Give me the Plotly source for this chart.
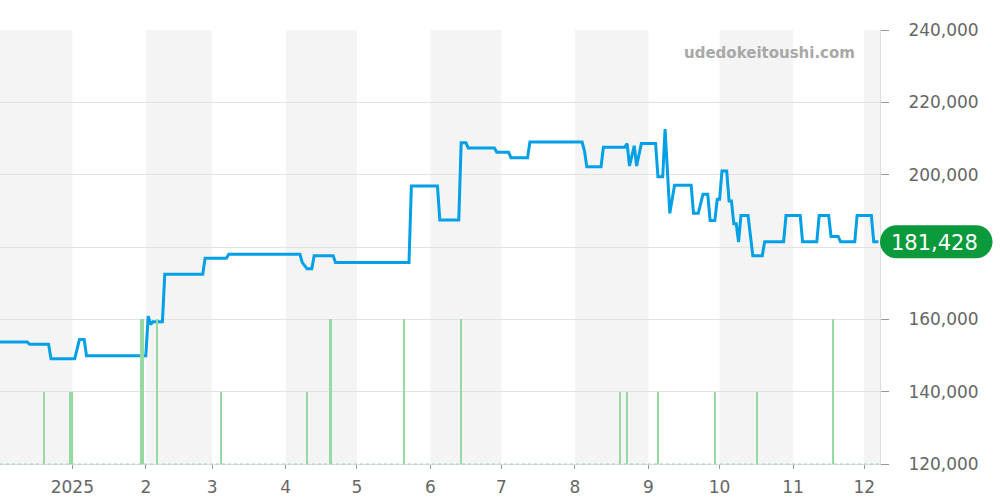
import plotly.graph_objects as go

# ---- data ----
price_dates = [
    "2024-12-01", "2024-12-13", "2024-12-14", "2024-12-22", "2024-12-23",
    "2025-01-02", "2025-01-04", "2025-01-06", "2025-01-07", "2025-02-01",
    "2025-02-02", "2025-02-03", "2025-02-04", "2025-02-08", "2025-02-09",
    "2025-02-25", "2025-02-26", "2025-03-07", "2025-03-08", "2025-04-07",
    "2025-04-08", "2025-04-10", "2025-04-12", "2025-04-13", "2025-04-21",
    "2025-04-22", "2025-05-23", "2025-05-24", "2025-06-04", "2025-06-05",
    "2025-06-13", "2025-06-14", "2025-06-16", "2025-06-17", "2025-06-28",
    "2025-06-29", "2025-07-04", "2025-07-05", "2025-07-12", "2025-07-13",
    "2025-08-04", "2025-08-05", "2025-08-06", "2025-08-12", "2025-08-13",
    "2025-08-22", "2025-08-23", "2025-08-24", "2025-08-26", "2025-08-27",
    "2025-08-29", "2025-09-04", "2025-09-05", "2025-09-07", "2025-09-08",
    "2025-09-10", "2025-09-12", "2025-09-19", "2025-09-20", "2025-09-22",
    "2025-09-24", "2025-09-26", "2025-09-27", "2025-09-29", "2025-09-30",
    "2025-10-01", "2025-10-02", "2025-10-04", "2025-10-05", "2025-10-06",
    "2025-10-07", "2025-10-08", "2025-10-09", "2025-10-10", "2025-10-13",
    "2025-10-15", "2025-10-19", "2025-10-20", "2025-10-28", "2025-10-29",
    "2025-11-04", "2025-11-05", "2025-11-11", "2025-11-12", "2025-11-16",
    "2025-11-17", "2025-11-20", "2025-11-21", "2025-11-27", "2025-11-28",
    "2025-12-04", "2025-12-05", "2025-12-07",
]
price_values = [
    153700, 153700, 153100, 153100, 149100,
    149100, 154400, 154400, 149900, 149900,
    160900, 158600, 159300, 159300, 172500,
    172500, 176900, 176900, 178000, 178000,
    175700, 174000, 174000, 177600, 177600,
    175700, 175700, 196900, 196900, 187500,
    187500, 208800, 208800, 207400, 207400,
    206200, 206200, 204700, 204700, 209000,
    209000, 206600, 202200, 202200, 207600,
    207600, 208600, 202400, 208000, 202400,
    208600, 208600, 199400, 199400, 212600,
    189300, 197100, 197100, 189300, 189300,
    194600, 194600, 187300, 187300, 193200,
    193200, 201000, 201000, 192700, 192700,
    186400, 186400, 181400, 188700, 188700,
    177600, 177600, 181428, 181428, 188700,
    188700, 181428, 181428, 188700, 188700,
    182900, 182900, 181428, 181428, 188700,
    188700, 181428, 181428,
]

volume_dates = [
    "2024-12-20", "2024-12-31", "2025-01-01", "2025-01-30", "2025-01-31",
    "2025-02-06", "2025-03-05", "2025-04-10", "2025-04-20", "2025-05-21",
    "2025-06-14", "2025-08-20", "2025-08-23", "2025-09-05", "2025-09-29",
    "2025-10-17", "2025-11-18",
]
volume_values = [1, 1, 1, 2, 2, 2, 1, 1, 2, 2, 2, 1, 1, 1, 1, 1, 2]

month_starts = [
    "2024-12-01", "2025-01-01", "2025-02-01", "2025-03-01", "2025-04-01",
    "2025-05-01", "2025-06-01", "2025-07-01", "2025-08-01", "2025-09-01",
    "2025-10-01", "2025-11-01", "2025-12-01", "2026-01-01",
]
tick_dates = month_starts[1:13]
tick_labels = ["2025", "2", "3", "4", "5", "6", "7", "8", "9", "10", "11", "12"]
y_ticks = [120000, 140000, 160000, 180000, 200000, 220000, 240000]
y_tick_labels = ["120,000", "140,000", "160,000", "", "200,000", "220,000", "240,000"]
last_price = 181428
watermark = "udedokeitoushi.com"

# ---- figure ----
fig = go.Figure()

fig.add_trace(go.Bar(
    x=volume_dates, y=volume_values, yaxis="y2",
    marker=dict(color="#97d9a3", line=dict(width=0)),
    width=0.65 * 86400000, hoverinfo="skip", showlegend=False,
))

fig.add_trace(go.Scatter(
    x=price_dates, y=price_values, mode="lines",
    line=dict(color="#03a0e6", width=3), showlegend=False,
))

shapes = []
for i in range(0, len(month_starts) - 1, 2):
    shapes.append(dict(
        type="rect", xref="x", yref="paper",
        x0=month_starts[i], x1=month_starts[i + 1], y0=0, y1=1,
        fillcolor="#f4f4f4", line=dict(width=0), layer="below",
    ))
# dotted green baseline
shapes.append(dict(
    type="line", xref="paper", yref="paper", x0=0, x1=1, y0=0, y1=0,
    line=dict(color="#9ad8a6", width=1, dash="dot"), layer="above",
))
# pill for last price
r = 16.5
k = 0.5523 * r
w = 112.5
pill = (f"M {r},{r} L {w - r},{r} C {w - r + k},{r} {w},{k} {w},0 "
        f"C {w},{-k} {w - r + k},{-r} {w - r},{-r} L {r},{-r} "
        f"C {r - k},{-r} 0,{-k} 0,0 C 0,{k} {r - k},{r} {r},{r} Z")
shapes.append(dict(
    type="path", xref="paper", yref="y", xsizemode="pixel", ysizemode="pixel",
    xanchor=1, yanchor=last_price, path=pill,
    fillcolor="#0a9a3c", line=dict(width=0), layer="above",
))

fig.update_layout(
    width=1000, height=500,
    margin=dict(l=0, r=120, t=30, b=36),
    paper_bgcolor="white", plot_bgcolor="white",
    font=dict(family="DejaVu Sans", color="#666666", size=17),
    bargap=0,
    shapes=shapes,
    xaxis=dict(
        type="date",
        range=["2024-12-01 12:00", "2025-12-07 15:36"],
        tickvals=tick_dates, ticktext=tick_labels,
        ticks="outside", ticklen=4, tickcolor="#999999",
        showgrid=False, showline=True, linecolor="#dddddd", linewidth=1,
        zeroline=False, ticklabelstandoff=4, automargin=False,
        tickfont=dict(size=17, color="#666666"),
    ),
    yaxis=dict(
        side="right", range=[120000, 240000],
        tickvals=y_ticks, ticktext=y_tick_labels,
        ticks="outside", ticklen=8, tickcolor="#999999",
        showgrid=True, gridcolor="#e2e2e2", gridwidth=1,
        showline=True, linecolor="#dddddd", linewidth=1,
        zeroline=False, ticklabelstandoff=16, automargin=False,
        tickfont=dict(size=17, color="#666666"),
    ),
    yaxis2=dict(
        overlaying="y", range=[0, 6], visible=False, fixedrange=True,
    ),
    annotations=[
        dict(
            x=1, xref="paper", y=last_price, yref="y",
            text=f"{last_price:,}", showarrow=False,
            xanchor="center", yanchor="middle", xshift=54, yshift=-1,
            font=dict(size=21, color="white", family="DejaVu Sans"),
        ),
        dict(
            x=857 / 880, xref="paper", y=(464 - 53) / 434, yref="paper",
            text=f"<b>{watermark}</b>", showarrow=False,
            xanchor="right", yanchor="middle",
            font=dict(size=15, color="#a8a8a8", family="DejaVu Sans"),
        ),
    ],
)

fig.write_html(
    "out.html",
    config={"displayModeBar": False},
    post_script="document.body.style.margin='0';",
)
